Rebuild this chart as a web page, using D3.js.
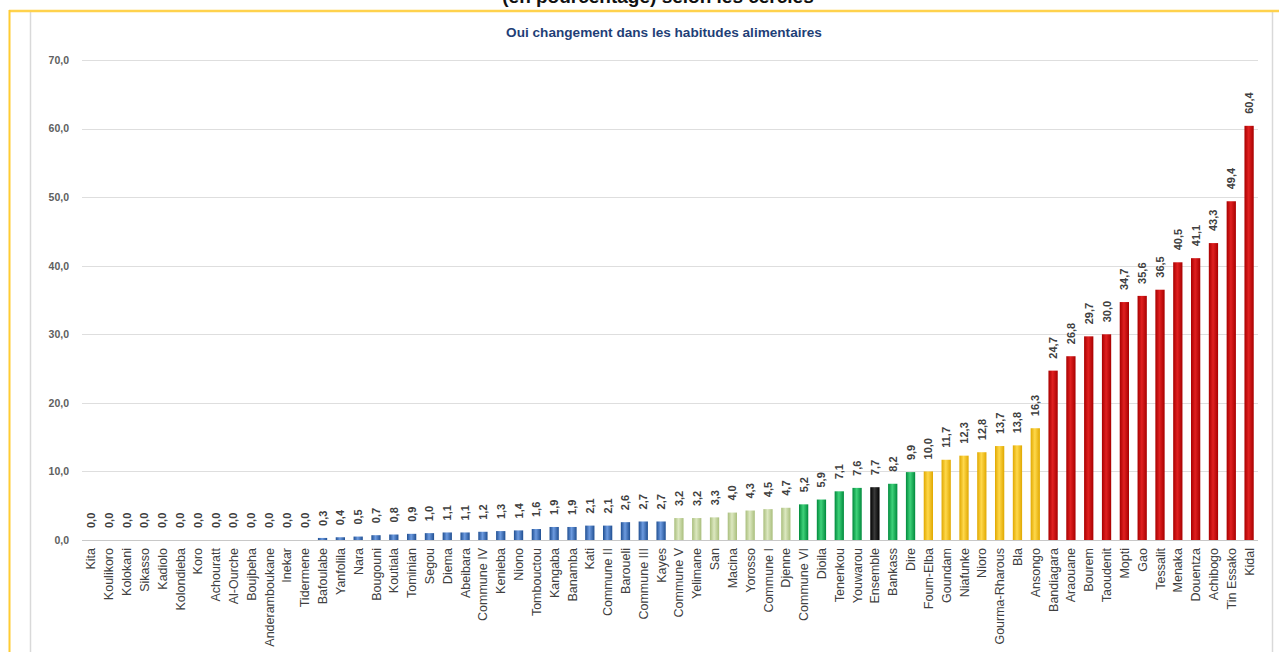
<!DOCTYPE html>
<html><head><meta charset="utf-8">
<script src="https://cdn.jsdelivr.net/npm/d3@7"></script>
<style>body{margin:0;background:#fff;overflow:hidden}svg{display:block}</style>
</head><body>
<svg id="c" width="1279" height="652"></svg>
<script>
const categories = ["Kita","Koulikoro","Kolokani","Sikasso","Kadiolo","Kolondieba","Koro","Achouratt","Al-Ourche","Boujbeha","Anderamboukane","Inekar","Tidermene","Bafoulabe","Yanfolila","Nara","Bougouni","Koutiala","Tominian","Segou","Diema","Abeibara","Commune IV","Kenieba","Niono","Tombouctou","Kangaba","Banamba","Kati","Commune II","Baroueli","Commune III","Kayes","Commune V","Yelimane","San","Macina","Yorosso","Commune I","Djenne","Commune VI","Dioila","Tenenkou","Youwarou","Ensemble","Bankass","Dire","Foum-Elba","Goundam","Niafunke","Nioro","Gourma-Rharous","Bla","Ansongo","Bandiagara","Araouane","Bourem","Taoudenit","Mopti","Gao","Tessalit","Menaka","Douentza","Achibogo","Tin Essako","Kidal"];
const values = [0,0,0,0,0,0,0,0,0,0,0,0,0,0.3,0.4,0.5,0.7,0.8,0.9,1.0,1.1,1.1,1.2,1.3,1.4,1.6,1.9,1.9,2.1,2.1,2.6,2.7,2.7,3.2,3.2,3.3,4.0,4.3,4.5,4.7,5.2,5.9,7.1,7.6,7.7,8.2,9.9,10.0,11.7,12.3,12.8,13.7,13.8,16.3,24.7,26.8,29.7,30.0,34.7,35.6,36.5,40.5,41.1,43.3,49.4,60.4];
const groups = ["blue","blue","blue","blue","blue","blue","blue","blue","blue","blue","blue","blue","blue","blue","blue","blue","blue","blue","blue","blue","blue","blue","blue","blue","blue","blue","blue","blue","blue","blue","blue","blue","blue","lightgreen","lightgreen","lightgreen","lightgreen","lightgreen","lightgreen","lightgreen","green","green","green","green","black","green","green","yellow","yellow","yellow","yellow","yellow","yellow","yellow","red","red","red","red","red","red","red","red","red","red","red","red"];
const yTicks = [0,10,20,30,40,50,60,70];
const title = "Oui changement dans les habitudes alimentaires";
const topCaption = "(en pourcentage) selon les cercles";

const palette = {
  blue:["#1F4E91","#6D9BE0","#1F4E91"],
  lightgreen:["#A9BE7C","#DCE8C0","#A9BE7C"],
  green:["#008A3C","#3FD27A","#008A3C"],
  black:["#000000","#3a3a3a","#000000"],
  yellow:["#E0A800","#FFD84A","#E0A800"],
  red:["#A80000","#E02020","#A80000"]
};

const svg = d3.select("#c");
const defs = svg.append("defs");
Object.entries(palette).forEach(([k,c])=>{
  const g = defs.append("linearGradient").attr("id","g_"+k).attr("x1","0%").attr("x2","100%").attr("y1","0%").attr("y2","0%");
  g.append("stop").attr("offset","0%").attr("stop-color",c[0]);
  g.append("stop").attr("offset","45%").attr("stop-color",c[1]);
  g.append("stop").attr("offset","100%").attr("stop-color",c[2]);
});

// frame
svg.append("line").attr("x1",30.5).attr("x2",30.5).attr("y1",12).attr("y2",652).attr("stroke","#d9d9d9").attr("stroke-width",1.5);
svg.append("line").attr("x1",1272.5).attr("x2",1272.5).attr("y1",12).attr("y2",652).attr("stroke","#d9d9d9").attr("stroke-width",1.5);
svg.append("line").attr("x1",9).attr("x2",1279).attr("y1",11).attr("y2",11).attr("stroke","#FFD24D").attr("stroke-width",2.5);
svg.append("line").attr("x1",9.5).attr("x2",9.5).attr("y1",10).attr("y2",652).attr("stroke","#FFCC33").attr("stroke-width",2);

svg.append("text").attr("x",658).attr("y",3).attr("text-anchor","middle")
  .attr("font-family","Liberation Sans, Arial, sans-serif").attr("font-size",19).attr("font-weight","bold").attr("fill","#111").text(topCaption);

svg.append("text").attr("x",664).attr("y",37).attr("text-anchor","middle")
  .attr("font-family","Liberation Sans, Arial, sans-serif").attr("font-size",13.6).attr("font-weight","bold").attr("fill","#1F3F77").text(title);

const x0 = 82, x1 = 1258;
const x = d3.scaleBand().domain(categories).range([x0,x1]).paddingInner(0.48).paddingOuter(0.24);
const y = d3.scaleLinear().domain([0,70]).range([540,60]);

// gridlines
svg.append("g").selectAll("line").data(yTicks).join("line")
  .attr("x1",x0).attr("x2",x1).attr("y1",d=>Math.round(y(d))+0.5).attr("y2",d=>Math.round(y(d))+0.5)
  .attr("stroke",d=>d===0?"#c8c8c8":"#dedede").attr("stroke-width",1.2);

// y axis labels via axis
const yAxis = d3.axisLeft(y).tickValues(yTicks).tickSize(0).tickPadding(0).tickFormat(d=>d3.format(".1f")(d).replace(".",","));
const ga = svg.append("g").attr("transform","translate(69,0)").call(yAxis);
ga.select(".domain").remove();
ga.selectAll("text").attr("font-family","Liberation Sans, Arial, sans-serif").attr("font-size",10.5).attr("font-weight","bold").attr("fill","#606060");

// bars
svg.append("g").selectAll("rect").data(categories).join("rect")
  .attr("x",d=>x(d)).attr("width",x.bandwidth())
  .attr("y",(d,i)=>y(values[i])).attr("height",(d,i)=>y(0)-y(values[i]))
  .attr("fill",(d,i)=>`url(#g_${groups[i]})`);

// value labels
svg.append("g").selectAll("text").data(categories).join("text")
  .attr("transform",(d,i)=>`translate(${x(d)+x.bandwidth()/2+4},${y(values[i])-12}) rotate(-90)`)
  .attr("text-anchor","start")
  .attr("font-family","Liberation Sans, Arial, sans-serif").attr("font-size",11).attr("font-weight","bold").attr("fill","#404040")
  .text((d,i)=>d3.format(".1f")(values[i]).replace(".",","));

// category labels via axis
const xAxis = d3.axisBottom(x).tickSize(0).tickPadding(0);
const gx = svg.append("g").attr("transform","translate(0,540)").call(xAxis);
gx.select(".domain").remove();
gx.selectAll("text").attr("transform","translate(4.5,8) rotate(-90)").attr("text-anchor","end").attr("dy",0).attr("y",0).attr("x",0)
  .attr("font-family","Liberation Sans, Arial, sans-serif").attr("font-size",12.5).attr("fill","#404040");
</script>
</body></html>
